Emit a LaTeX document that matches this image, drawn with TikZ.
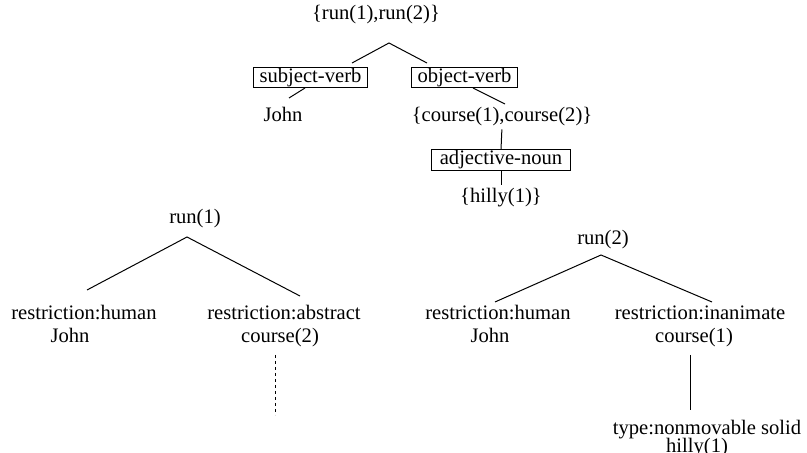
\documentclass[tikz,border=0pt]{standalone}
\usepackage{fontspec}
\setmainfont{Liberation Serif}
\tikzset{
  word/.style={inner sep=0pt, anchor=base},
  rel/.style={draw, line width=0.5pt, inner xsep=3pt, inner ysep=0.5pt},
  link/.style={line width=0.5pt},
}
\begin{document}
\begin{tikzpicture}[x=0.5pt,y=-0.5pt,font=\fontsize{10.3}{12}\selectfont]
  \useasboundingbox (0,0) rectangle (807,453);

  \node[word] (root) at (376,19.5) {\{run(1),run(2)\}};
  \node[rel] (sv) at (310.5,77.5) {subject-verb};
  \node[rel] (ov) at (464.5,77.5) {object-verb\hspace{5pt}};
  \node[word] (john) at (283,122) {John};
  \node[word] (courses) at (502,122) {\{course(1),course(2)\}};
  \node[rel,inner xsep=4pt] (an) at (501,160) {adjective-noun};
  \node[word] (hilly) at (501,203) {\{hilly(1)\}};

  \coordinate (rootfork) at (389,43);
  \coordinate (svin) at (352,63);
  \coordinate (ovin) at (427,63);
  \coordinate (svout) at (305,88);
  \coordinate (johnin) at (289,98);
  \coordinate (ovout) at (473,88);
  \coordinate (coursesin) at (505,104);

  \draw[link] (svin) -- (rootfork) -- (ovin);
  \draw[link] (svout) -- (johnin);
  \draw[link] (ovout) -- (coursesin);
  \draw[link,shorten >=1.25pt] (an.north) -- (courses.south);
  \draw[link,shorten >=1.5pt] (an.south) -- (hilly.north);

  \node[word] (runA) at (195,224) {run(1)};
  \node[word] (humanA) at (84,320) {restriction:human};
  \node[word] (johnA) at (70,343) {John};
  \node[word] (abstractA) at (284,320) {restriction:abstract};
  \node[word] (courseA) at (280,343) {course(2)};

  \coordinate (forkA) at (187,237);
  \coordinate (humanAin) at (87,290);
  \coordinate (abstractAin) at (300,296);
  \coordinate (courseAout) at (275.5,355);
  \coordinate (courseAend) at (275.5,415);

  \draw[link] (humanAin) -- (forkA) -- (abstractAin);
  \draw[link,dash pattern=on 1.75pt off 1.25pt] (courseAout) -- (courseAend);

  \node[word] (runB) at (603,245) {run(2)};
  \node[word] (humanB) at (498,320) {restriction:human};
  \node[word] (johnB) at (490,343) {John};
  \node[word] (inanimateB) at (700,320) {restriction:inanimate};
  \node[word] (courseB) at (694,343) {course(1)};
  \node[word] (typeB) at (707,435) {type:nonmovable solid};
  \node[word] (hillyB) at (697,452) {hilly(1)};

  \coordinate (forkB) at (601,255);
  \coordinate (humanBin) at (495,302);
  \coordinate (inanimateBin) at (712,302);
  \coordinate (courseBout) at (690,355);
  \coordinate (typeBin) at (690,410);

  \draw[link] (humanBin) -- (forkB) -- (inanimateBin);
  \draw[link] (courseBout) -- (typeBin);
\end{tikzpicture}
\end{document}
